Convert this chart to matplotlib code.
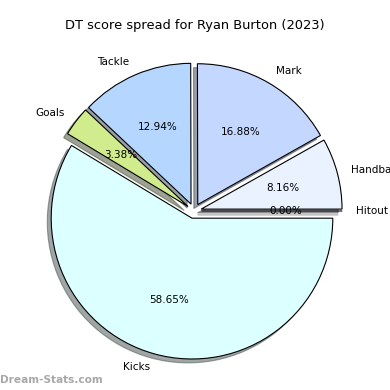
import matplotlib
matplotlib.use("Agg")
import matplotlib.pyplot as plt

labels = ["Hitout", "Handball", "Mark", "Tackle", "Goals", "Kicks"]
values = [0.00, 8.16, 16.88, 12.94, 3.38, 58.65]
colors = ["#f0f4ff", "#eaf1ff", "#c4d8ff", "#b4d6ff", "#d0ec8c", "#dcffff"]
explode = [0.053] * len(values)
total = sum(values)

fig = plt.figure(figsize=(3.9, 3.9), dpi=100)
ax = fig.add_axes([18/390, 3/390, 352/390, 352/390])
ax.pie(values, labels=labels, colors=colors, explode=explode,
       autopct=lambda p: f"{p * total / 100:.2f}%",
       startangle=0, shadow=True, labeldistance=1.1, pctdistance=0.6,
       wedgeprops=dict(edgecolor="black", linewidth=0.8),
       textprops=dict(fontsize=7.5))
ax.set_aspect("equal")
ax.set_xlim(-1.25, 1.25)
ax.set_ylim(-1.25, 1.25)
fig.text(0.5, 1 - 25/390, "DT score spread for Ryan Burton (2023)", ha="center", va="center", fontsize=9.4)
fig.text(0.0, 1 - 380/390, "Dream-Stats.com", ha="left", va="center", fontsize=7.6,
         fontweight="bold", color="#a8a8a8")
fig.savefig("out.png", dpi=100)
